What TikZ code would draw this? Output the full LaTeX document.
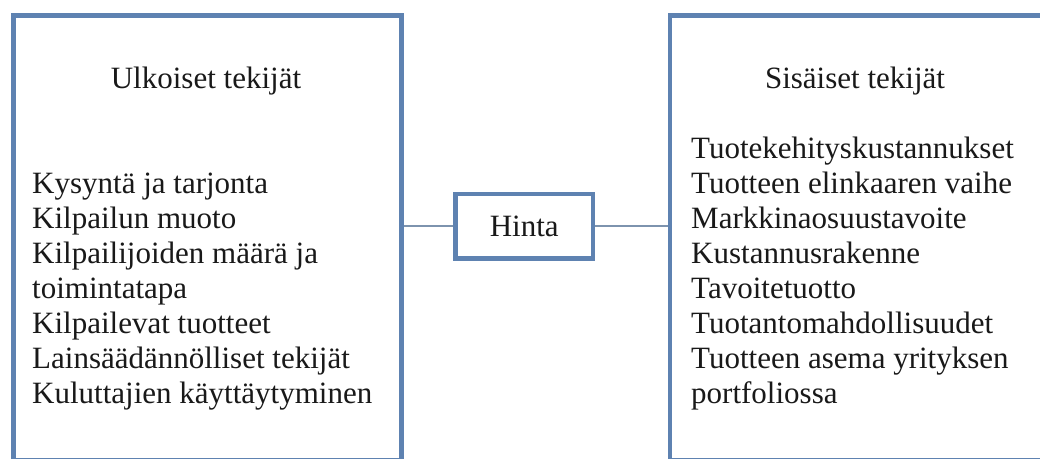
\documentclass[tikz,border=0pt]{standalone}
\usepackage{fontspec}
\setmainfont{Liberation Serif}
\usepackage{xcolor}
\usepackage{tikz}
\usetikzlibrary{positioning}
\definecolor{frame}{HTML}{5E82B1}
\definecolor{linkc}{HTML}{7D93AE}

\begin{document}
\begin{tikzpicture}[
    x=1pt, y=-1pt,
    panel/.style={draw=frame, line width=4.5pt, inner sep=0pt, fill=white},
    entry/.style={font=\fontsize{31}{35}\selectfont, inner sep=0pt, text=black!90},
    link/.style={draw=linkc, line width=1.8pt},
]
    \useasboundingbox[fill=white] (0,0) rectangle (1040,458);

    % the three boxes
    \node[panel, minimum width=388pt, minimum height=444.5pt] (ext)   at (207.5,237.75) {};
    \node[panel, minimum width=374pt, minimum height=444.5pt] (int)   at (857,237.75) {};
    \node[panel, minimum width=137.5pt, minimum height=64.5pt, entry] (price) at (524.25,226.25) {Hinta};

    % titles
    \node[entry, anchor=base] (ext-title) at (206,88) {Ulkoiset tekijät};
    \node[entry, anchor=base] (int-title) at (855,88) {Sisäiset tekijät};

    % lists
    \foreach \t [count=\i] in {Kysyntä ja tarjonta, Kilpailun muoto,
        Kilpailijoiden määrä ja, toimintatapa, Kilpailevat tuotteet,
        Lainsäädännölliset tekijät, Kuluttajien käyttäytyminen}
        \node[entry, anchor=base west] (ext-\i) at (32,{193+35*(\i-1)}) {\t};
    \foreach \t [count=\i] in {Tuotekehityskustannukset, Tuotteen elinkaaren vaihe,
        Markkinaosuustavoite, Kustannusrakenne, Tavoitetuotto,
        Tuotantomahdollisuudet, Tuotteen asema yrityksen, portfoliossa}
        \node[entry, anchor=base west] (int-\i) at (691,{158.5+35*(\i-1)}) {\t};

    % connectors
    \draw[link] (price.west) -- (price.west -| ext.east);
    \draw[link] (price.east) -- (price.east -| int.west);
\end{tikzpicture}
\end{document}
